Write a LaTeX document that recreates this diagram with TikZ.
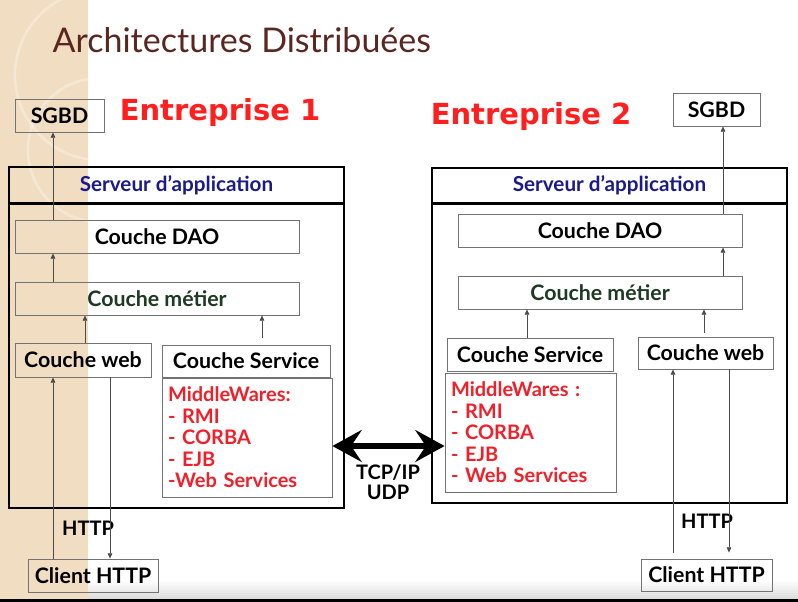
\documentclass[tikz,border=0pt]{standalone}
\usepackage{fontspec}
\setmainfont{Lato}
\newfontfamily\entfont{DejaVu Sans}
\usetikzlibrary{arrows.meta}

\definecolor{stripbeige}{HTML}{F0DDC2}
\definecolor{titlebrown}{HTML}{5A2620}
\definecolor{srvblue}{HTML}{1A1A8A}
\definecolor{metgreen}{HTML}{1F3A22}
\definecolor{entred}{HTML}{FF1F1F}
\definecolor{mwred}{HTML}{F0202A}

\begin{document}
\begin{tikzpicture}[
      x=0.75pt, y=-0.75pt,
      box/.style={draw=black!55, line width=0.6pt, minimum height=24.75pt,
        inner sep=0pt, font=\fontsize{16}{19}\selectfont\bfseries},
      srvbox/.style={draw=black, line width=1.5pt, inner sep=0pt},
      hdr/.style={inner sep=0pt, minimum height=27pt, text=srvblue,
        font=\fontsize{15.5}{18}\selectfont\bfseries},
      mwbox/.style={draw=black!55, line width=0.6pt, align=left, inner xsep=4.5pt,
        text=mwred, minimum height=89.25pt,
        font=\fontsize{15}{16.1}\selectfont\bfseries},
      small/.style={font=\fontsize{15}{15}\selectfont\bfseries},
      ent/.style={text=entred, font=\entfont\bfseries\fontsize{21.75}{24}\selectfont},
      arr/.style={draw=black!70, line width=0.6pt,
        -{Triangle[length=4pt,width=3.5pt]}},
      link/.style={draw=black, line width=3.8pt,
        {Stealth[length=22pt,width=24pt,inset=8pt]}-{Stealth[length=22pt,width=24pt,inset=8pt]}}]

    % page background
    \useasboundingbox (0,0) rectangle (798,602);
    \fill[white] (0,0) rectangle (798,602);
    \shade[top color=white, bottom color=black!14] (88,580) rectangle (798,599);
    \fill[stripbeige] (0,0) rectangle (88,599);
    \begin{scope}
      \clip (0,0) rectangle (88,599);
      \draw[white, opacity=0.3, line width=2pt] (100,75) circle [radius=63.75pt];
      \draw[white, opacity=0.3, line width=2pt] (100,150) circle [radius=54pt];
    \end{scope}
    \fill[black] (0,599) rectangle (798,602);

    \node (title) [anchor=base west, text=titlebrown,
      font=\fontsize{25.5}{30}\selectfont] at (48,53) {Architectures Distribuées};

    % Entreprise 1
    \node (ent1) [ent] at (220,113) {Entreprise 1};
    \node (sgbd1) [box, minimum width=66.75pt] at (59.5,115.5) {SGBD\hspace{6pt}};
    \node (srv1) [srvbox, minimum width=251.25pt, minimum height=255.75pt] at (176.5,337.5) {};
    \node (hdr1) [hdr, minimum width=251.25pt] at (176.5,185) {Serveur d’application};
    \node (dao1) [box, minimum width=213pt] at (157,236.5) {Couche DAO};
    \node (met1) [box, minimum width=213pt, text=metgreen] at (157,298.5) {Couche métier};
    \node (web1) [box, minimum width=102pt, minimum height=25.5pt] at (83,360) {Couche web};
    \node (svc1) [box, minimum width=126pt, minimum height=24pt] at (246,361) {Couche Service};
    \node (mw1) [mwbox, text width=118.5pt] at (247,437.5)
      {MiddleWares:\\- RMI\\- CORBA\\- EJB\\-Web Services};
    \node (cli1) [box, minimum width=97.5pt] at (93,575.5) {Client HTTP};
    \node (http1) [small] at (88,528) {HTTP};

    % Entreprise 2
    \node (ent2) [ent] at (531,117) {Entreprise 2};
    \node (sgbd2) [box, minimum width=65.25pt] at (716.5,109.5) {SGBD\hspace{6pt}};
    \node (srv2) [srvbox, minimum width=266.25pt, minimum height=251.25pt] at (609.5,335.5) {};
    \node (hdr2) [hdr, minimum width=266.25pt] at (609.5,185) {Serveur d’application};
    \node (dao2) [box, minimum width=213pt] at (600,230.5) {Couche DAO};
    \node (met2) [box, minimum width=213pt, text=metgreen] at (600,292.5) {Couche métier};
    \node (svc2) [box, minimum width=124.5pt] at (530,354.5) {Couche Service};
    \node (web2) [box, minimum width=101.25pt, minimum height=24pt] at (705.5,353) {Couche web};
    \node (mw2) [mwbox, text width=119.25pt] at (530.5,432.5)
      {MiddleWares :\\- RMI\\- CORBA\\- EJB\\- Web Services};
    \node (cli2) [box, minimum width=98.25pt, minimum height=24pt] at (706.5,575) {Client HTTP};
    \node (http2) [small] at (707,521) {HTTP};

    \node (proto) [small, align=center] at (388,482) {TCP/IP\\UDP};

    \draw[line width=2.2pt] (hdr1.south west) -- (hdr1.south east);
    \draw[line width=2.2pt] (hdr2.south west) -- (hdr2.south east);

    % arrow columns
    \coordinate (colA) at (53,0);
    \coordinate (colB) at (85,0);
    \coordinate (colC) at (262,0);
    \coordinate (colD) at (110,0);
    \coordinate (colE) at (723,0);
    \coordinate (colF) at (527,0);
    \coordinate (colG) at (704,0);
    \coordinate (colH) at (673,0);
    \coordinate (colI) at (729,0);
    \coordinate (lk) at (388,446);

    \draw[arr] (dao1.north -| colA) -- (sgbd1.south -| colA);
    \draw[arr] (met1.north -| colA) -- (dao1.south -| colA);
    \draw[arr] (web1.north -| colB) -- (met1.south -| colB);
    \draw[arr] ([yshift=5pt]svc1.north -| colC) -- (met1.south -| colC);
    \draw[arr] (cli1.north -| colA) -- (web1.south -| colA);
    \draw[arr] (web1.south -| colD) -- (cli1.north -| colD);

    \draw[arr] (dao2.north -| colE) -- (sgbd2.south -| colE);
    \draw[arr] (met2.north -| colE) -- (dao2.south -| colE);
    \draw[arr] (svc2.north -| colF) -- (met2.south -| colF);
    \draw[arr] ([yshift=3pt]web2.north -| colG) -- (met2.south -| colG);
    \draw[arr] ([yshift=4.5pt]cli2.north -| colH) -- (web2.south -| colH);
    \draw[arr, shorten >=4.5pt] (web2.south -| colI) -- (cli2.north -| colI);

    \draw[link] (mw1.east |- lk) -- (mw2.west |- lk);

  \end{tikzpicture}
\end{document}
